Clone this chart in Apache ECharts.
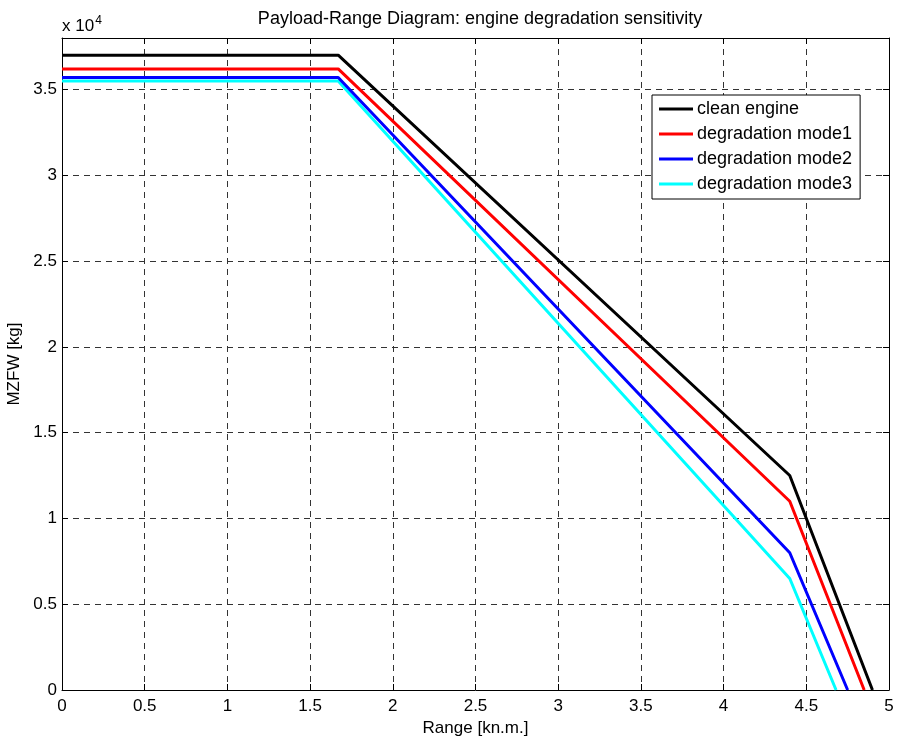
<!DOCTYPE html>
<html>
<head>
<meta charset="utf-8">
<script src="https://cdn.jsdelivr.net/npm/echarts@6/dist/echarts.min.js"></script>
<style>html,body{margin:0;padding:0;background:#fff}#c{width:897px;height:740px}</style>
</head>
<body>
<div id="c"></div>
<script>
var seriesNames = ['clean engine', 'degradation mode1', 'degradation mode2', 'degradation mode3'];
var rangeClean = [0, 1.67, 4.4, 4.9];
var mzfwClean = [37000, 37000, 12500, 0];
var rangeMode1 = [0, 1.67, 4.4, 4.85];
var mzfwMode1 = [36200, 36200, 11000, 0];
var rangeMode2 = [0, 1.67, 4.4, 4.75];
var mzfwMode2 = [35700, 35700, 8000, 0];
var rangeMode3 = [0, 1.67, 4.4, 4.68];
var mzfwMode3 = [35500, 35500, 6500, 0];
var xTicks = [0, 0.5, 1, 1.5, 2, 2.5, 3, 3.5, 4, 4.5, 5];
var yTickLabels = ['0', '0.5', '1', '1.5', '2', '2.5', '3', '3.5'];

var colors = ['#000000', '#ff0000', '#0000ff', '#00ffff'];
var ranges = [rangeClean, rangeMode1, rangeMode2, rangeMode3];
var mzfws = [mzfwClean, mzfwMode1, mzfwMode2, mzfwMode3];

function pairs(xs, ys) { return xs.map(function (x, i) { return [x, ys[i]]; }); }

var FONT = 'Liberation Sans';
var gridLine = { show: true, lineStyle: { color: '#333', type: [6, 5], width: 1 } };
var axisLineBlack = { show: true, onZero: false, lineStyle: { color: '#000', width: 1 } };
var tickIn = { show: true, inside: true, length: 6, lineStyle: { color: '#000' } };

var chart = echarts.init(document.getElementById('c'), null, { renderer: 'canvas' });
chart.setOption({
  backgroundColor: '#fff',
  animation: false,
  title: {
    text: 'Payload-Range Diagram: engine degradation sensitivity',
    left: 475, top: 5, textAlign: 'center',
    textStyle: { fontFamily: FONT, fontSize: 18, fontWeight: 'normal', color: '#000' }
  },
  grid: { left: 62, right: 8, top: 38, bottom: 50, outerBoundsMode: 'none', containLabel: false },
  legend: {
    orient: 'vertical', left: 652, top: 95,
    padding: [5, 8, 6, 7], itemGap: 7, itemWidth: 34, itemHeight: 3,
    icon: 'rect',
    borderColor: '#000', borderWidth: 1, backgroundColor: '#fff',
    textStyle: { fontFamily: FONT, fontSize: 18, color: '#000', padding: [0, 0, 0, -1] },
    data: seriesNames
  },
  xAxis: [{
    type: 'value', min: 0, max: 5, interval: 0.5, position: 'bottom',
    name: 'Range [kn.m.]', nameLocation: 'middle', nameGap: 29,
    nameTextStyle: { fontFamily: FONT, fontSize: 17, color: '#000' },
    axisLine: axisLineBlack, axisTick: tickIn,
    axisLabel: { fontFamily: FONT, fontSize: 17, color: '#000', margin: 8,
      formatter: function (v) { return String(xTicks[Math.round(v / 0.5)]); } },
    splitLine: gridLine
  }, {
    type: 'value', min: 0, max: 5, interval: 0.5, position: 'top',
    axisLine: axisLineBlack, axisTick: tickIn, axisLabel: { show: false }, splitLine: { show: false }
  }],
  yAxis: [{
    type: 'value', min: 0, max: 38000, interval: 5000, position: 'left',
    name: 'MZFW [kg]', nameLocation: 'middle', nameGap: 32, nameRotate: 90,
    nameTextStyle: { fontFamily: FONT, fontSize: 17, color: '#000' },
    axisLine: axisLineBlack, axisTick: tickIn,
    axisLabel: { fontFamily: FONT, fontSize: 17, color: '#000', margin: 5, showMaxLabel: false,
      formatter: function (v) { var i = Math.round(v / 5000); return v % 5000 === 0 && yTickLabels[i] !== undefined ? yTickLabels[i] : ''; } },
    splitLine: gridLine
  }, {
    type: 'value', min: 0, max: 38000, interval: 5000, position: 'right',
    axisLine: axisLineBlack, axisTick: tickIn, axisLabel: { show: false }, splitLine: { show: false }
  }],
  graphic: [{
    type: 'text', left: 62, top: 15,
    style: {
      text: '{a|x 10}{b|4}', fontFamily: FONT,
      rich: {
        a: { fontFamily: FONT, fontSize: 17, fill: '#000', verticalAlign: 'bottom', lineHeight: 20 },
        b: { fontFamily: FONT, fontSize: 12, fill: '#000', verticalAlign: 'top', padding: [0, 0, 10, 1], lineHeight: 12 }
      }
    }
  }],
  series: seriesNames.map(function (n, i) {
    return {
      name: n, type: 'line', data: pairs(ranges[i], mzfws[i]),
      symbol: 'none', showSymbol: false, z: 10 - i,
      lineStyle: { color: colors[i], width: 3 }, itemStyle: { color: colors[i] }
    };
  }).reverse()
});
</script>
</body>
</html>
